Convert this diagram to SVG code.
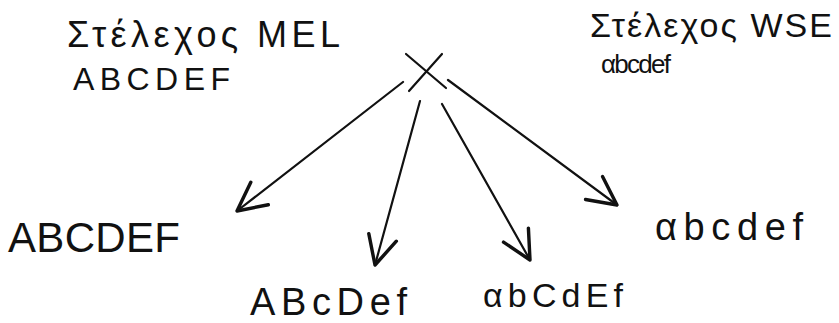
<svg xmlns="http://www.w3.org/2000/svg" width="839" height="323" viewBox="0 0 839 323">
  <style>
    .t { font-family: "Liberation Sans", "DejaVu Sans", sans-serif; fill: #111; }
    .ln { stroke: #111; stroke-width: 2.2; fill: none; stroke-linecap: round; }
  </style>
  <defs>
    <marker id="ah" markerUnits="userSpaceOnUse" markerWidth="40" markerHeight="40" viewBox="-24 -14 28 28" refX="0" refY="0" orient="auto">
      <path d="M-20,-10 L0,0 L-20,10" fill="none" stroke="#111" stroke-width="2.4" stroke-linecap="round" stroke-linejoin="round"/>
    </marker>
  </defs>
  <rect width="839" height="323" fill="#fff"/>

  <g id="mel">
    <text class="t" x="67" y="47" font-size="36" textLength="273" lengthAdjust="spacing">Στέλεχος MEL</text>
    <text class="t" x="73" y="90" font-size="32" textLength="157" lengthAdjust="spacing">ABCDEF</text>
  </g>
  <g id="wse">
    <text class="t" x="590" y="37" font-size="34" textLength="242" lengthAdjust="spacing">Στέλεχος WSE</text>
    <text class="t" x="601" y="73" font-size="26" textLength="70" lengthAdjust="spacing">αbcdef</text>
  </g>
  <g id="r1">
    <text class="t" x="8" y="252" font-size="42" textLength="172" lengthAdjust="spacing">ABCDEF</text>
  </g>
  <g id="r2">
    <text class="t" x="250" y="315" font-size="38" textLength="157" lengthAdjust="spacing">ABcDef</text>
  </g>
  <g id="r3">
    <text class="t" x="483" y="307" font-size="34" textLength="140" lengthAdjust="spacing">αbCdEf</text>
  </g>
  <g id="r4">
    <text class="t" x="655" y="240" font-size="38" textLength="148" lengthAdjust="spacing">αbcdef</text>
  </g>

  <g id="connectors">
    <line class="ln" x1="406" y1="54" x2="446" y2="88"/>
    <line class="ln" x1="442" y1="54" x2="409" y2="91"/>
    <line class="ln" x1="403" y1="82" x2="237" y2="211" marker-end="url(#ah)"/>
    <line class="ln" x1="420" y1="101" x2="375" y2="265" marker-end="url(#ah)"/>
    <line class="ln" x1="442" y1="104" x2="530" y2="260" marker-end="url(#ah)"/>
    <line class="ln" x1="448" y1="80" x2="617" y2="205" marker-end="url(#ah)"/>
  </g>
</svg>
